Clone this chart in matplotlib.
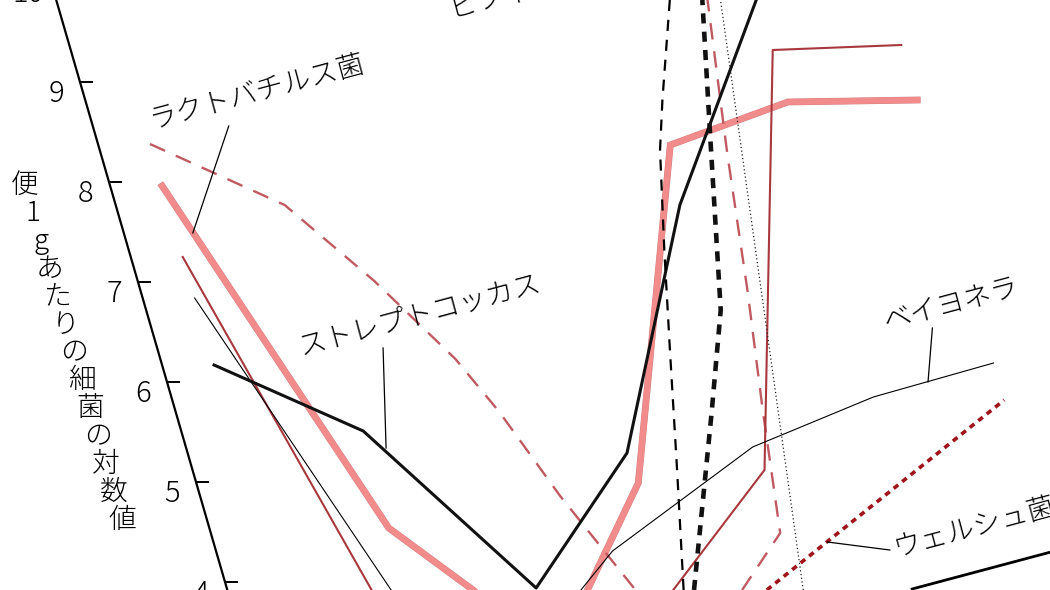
import numpy as np
import matplotlib
matplotlib.use('Agg')
import matplotlib.pyplot as plt
import matplotlib.patheffects as pe
from matplotlib.transforms import Affine2D

plt.rcParams['font.family'] = ['Noto Sans CJK JP', 'DejaVu Sans']
plt.rcParams['font.weight'] = 'light'

# x = stage along the time axis (0, 1, 2 ...), y = log10 bacteria per gram of faeces.
# NaN splits a curve where it runs below the visible part of the chart.
lacto_dash_x = [0, 0.90, 1.42, 1.87, 2.09, 2.37, 2.74, np.nan, 3.56, 3.98, 4.12, 4.27, 4.42, 4.61]
lacto_dash_y = [8.38, 7.77, 7.01, 6.23, 5.70, 4.86, 3.92, np.nan, 3.92, 4.49, 5.72, 6.92, 8.29, 9.82]

lacto_x = [0, 0.98, 1.49, np.nan, 2.37, 3, 4, 5, 6]
lacto_y = [7.96, 4.54, 3.92, np.nan, 3.92, 4.99, 8.37, 8.80, 8.82]

darkred_x = [0, 0.71, np.nan, 3.03, 4, 5, 6]
darkred_y = [7.25, 3.92, np.nan, 3.92, 5.12, 9.32, 9.37]

strep_x = [0, 1, 1.98, 2.98, 3.94, 5]
strep_y = [6.17, 5.51, 3.94, 5.29, 7.77, 9.85]

veillo_x = [0, 0.86, np.nan, 2.32, 2.65, 3.96, 5, 6]
veillo_y = [6.84, 3.92, np.nan, 3.92, 4.31, 5.35, 5.85, 6.19]

dash_x = [3.11, 3.34, 3.54, 3.72, 3.91, 4.04, 4.32]
dash_y = [3.92, 5.19, 6.32, 7.32, 8.32, 8.82, 9.82]

bifido_x = [3.19, 3.72, 4.02, 4.32, 4.57]
bifido_y = [3.92, 5.69, 6.72, 8.42, 9.82]

dotted_x = [4.03, 4.71]
dotted_y = [3.92, 9.82]

welch_x = [3.75, 6]
welch_y = [3.92, 5.82]

bottom_x = [4.87, 6.02]
bottom_y = [3.93, 4.30]

y_ticks = [4, 5, 6, 7, 8, 9, 10]
y_label = '便1gあたりの細菌の対数値'

fig = plt.figure(figsize=(10.5, 5.9), dpi=100)
ax = fig.add_axes([0, 0, 1, 1])
ax.set_xlim(0, 1050)
ax.set_ylim(3.92, 9.82)
ax.axis('off')

# oblique frame: one stage = 130 px to the right, each log unit shifts the frame 29 px left
frame = Affine2D.from_values(130, 0, -29, 1, 393, 0) + ax.transData

AXIS_X = -0.4

# slanted y axis with ticks
ax.plot([AXIS_X, AXIS_X], [3.0, 11.0], color='black', lw=1.6, transform=frame)
for t in y_ticks:
    ax.plot([AXIS_X, AXIS_X + 0.092], [t, t], color='black', lw=1.4, transform=frame)
    ax.text(AXIS_X - 0.208, t - 0.12, str(t), ha='center', va='center',
            fontsize=21, fontweight='light', transform=frame)

step = (8.0 - 4.65) / (len(y_label) - 1)
for i, ch in enumerate(y_label):
    ax.text(AXIS_X - 0.646, 8.0 - i * step, ch, ha='center', va='center_baseline',
            fontsize=20, fontweight='light', transform=frame)

# curves
pink = ax.plot(lacto_x, lacto_y, color='#f28c8c', lw=4.3, solid_joinstyle='miter',
               transform=frame)[0]
pink.set_path_effects([pe.Stroke(linewidth=4.9, foreground='#d08080'), pe.Normal()])
ax.plot(lacto_dash_x, lacto_dash_y, color='#c05a62', lw=1.7, ls=(0, (7, 5)), transform=frame)
ax.plot(darkred_x, darkred_y, color='#a8383d', lw=1.5, transform=frame)
ax.plot(veillo_x, veillo_y, color='black', lw=0.8, transform=frame)
ax.plot(strep_x, strep_y, color='#111111', lw=2.2, transform=frame)
ax.plot(dash_x, dash_y, color='black', lw=1.6, ls=(0, (5, 4)), transform=frame)
ax.plot(bifido_x, bifido_y, color='#111111', lw=3.3, ls=(0, (2.2, 1.8)), transform=frame)
ax.plot(dotted_x, dotted_y, color='#222222', lw=0.9, ls=(0, (1, 2)), transform=frame)
ax.plot(welch_x, welch_y, color='#a0141c', lw=2.6, ls=(0, (1.6, 1.4)), transform=frame)
ax.plot(bottom_x, bottom_y, color='black', lw=2.0, transform=frame)

# labels with leader lines
labels = [
    ('ラクトバチルス菌', 0.946, 8.905, (0.646, 0.131), (8.56, 7.49)),
    ('ストレプトコッカス', 1.70, 6.68, (1.338, 1.138), (6.34, 5.34)),
    ('ベイヨネラ', 5.80, 6.78, (5.608, 5.454), (6.54, 6.0)),
    ('ウェルシュ菌', 5.49, 4.55, (4.785, 4.323), (4.32, 4.4)),
    ('ビフィズス菌', 3.27, 9.94, None, None),
]
for text, tx, ty, lx, ly in labels:
    ax.text(tx, ty, text, ha='center', va='center', rotation=15,
            rotation_mode='anchor', fontsize=20, fontweight='light', transform=frame)
    if lx is not None:
        ax.plot(lx, ly, color='black', lw=0.9, transform=frame)

fig.savefig('out.png', dpi=100, facecolor='white')
